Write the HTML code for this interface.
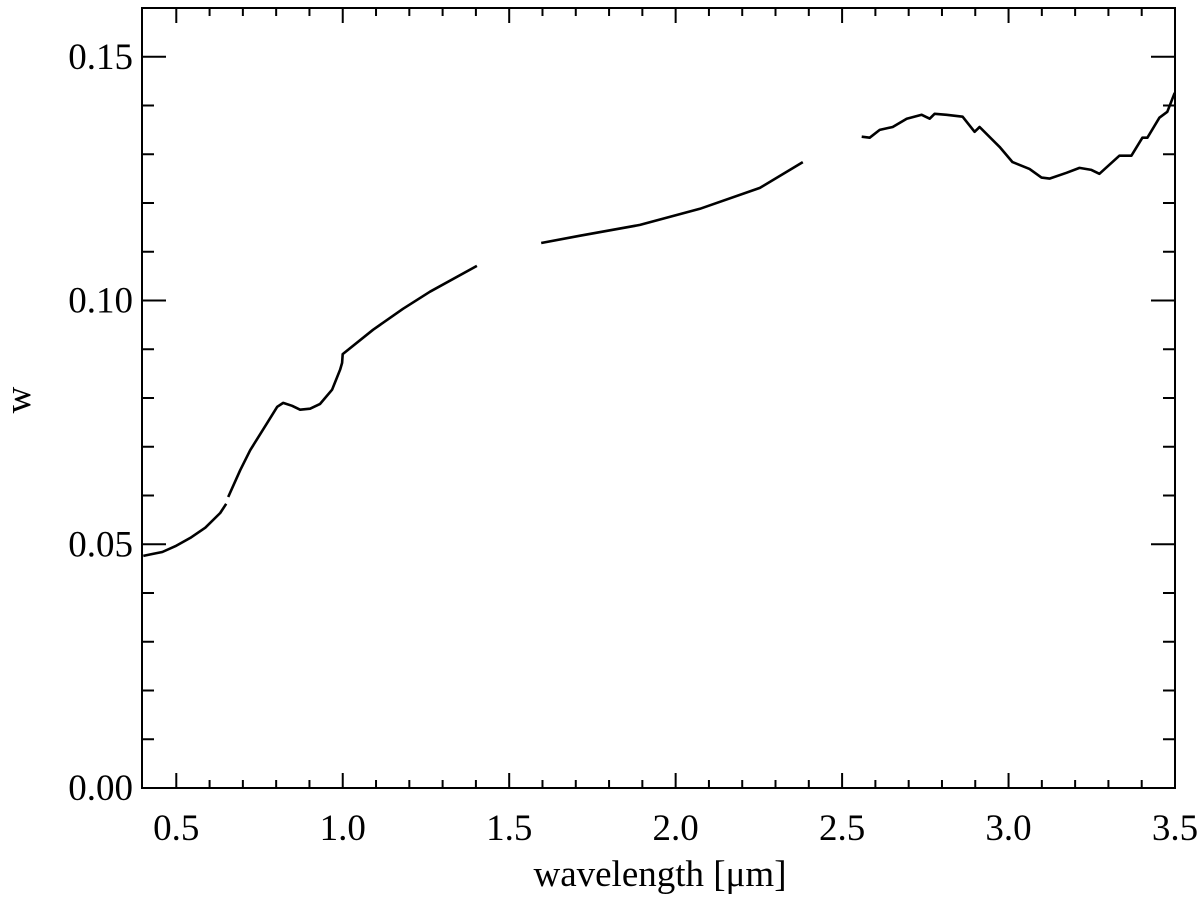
<!DOCTYPE html>
<html><head><meta charset="utf-8"><style>
body{margin:0;background:#fff}
svg text{font-family:"Liberation Serif",serif;fill:#000}
</style></head><body>
<svg id="chart" width="1200" height="899" xmlns="http://www.w3.org/2000/svg">
<g id="axes"></g><g id="series"></g>
<text x="660" y="886" font-size="37" text-anchor="middle">wavelength [μm]</text>
<text x="0" y="0" font-size="37" text-anchor="middle" transform="translate(30,400) rotate(-90)">w</text>
</svg>
<script>
const xTicks=[0.5,1.0,1.5,2.0,2.5,3.0,3.5];
const xTickLabels=["0.5","1.0","1.5","2.0","2.5","3.0","3.5"];
const yTicks=[0,0.05,0.10,0.15];
const yTickLabels=["0.00","0.05","0.10","0.15"];
const seg1X=[0.401,0.428,0.458,0.497,0.542,0.587,0.632,0.650];
const seg1Y=[0.0476,0.0480,0.0484,0.0496,0.0513,0.0534,0.0564,0.0583];
const seg2X=[0.656,0.692,0.722,0.773,0.803,0.821,0.848,0.872,0.902,0.932,0.968,0.992,0.998,1.0,1.091,1.181,1.262,1.403];
const seg2Y=[0.0597,0.0652,0.0693,0.0749,0.0782,0.0790,0.0784,0.0776,0.0778,0.0788,0.0817,0.0858,0.0872,0.0890,0.0940,0.0983,0.1018,0.1071];
const seg3X=[1.596,1.713,1.893,2.073,2.253,2.382];
const seg3Y=[0.1118,0.1133,0.1155,0.1188,0.1231,0.1284];
const seg4X=[2.559,2.583,2.613,2.652,2.694,2.739,2.763,2.778,2.814,2.862,2.898,2.913,2.973,3.012,3.063,3.099,3.123,3.174,3.213,3.249,3.273,3.333,3.369,3.402,3.417,3.453,3.477,3.499];
const seg4Y=[0.1336,0.1334,0.1350,0.1356,0.1373,0.1381,0.1373,0.1383,0.1381,0.1377,0.1346,0.1356,0.1315,0.1284,0.1270,0.1252,0.1250,0.1262,0.1272,0.1268,0.1260,0.1297,0.1297,0.1334,0.1334,0.1375,0.1387,0.1426];

const L=142,R=1175,T=8,B=788,X0=0.397,X1=3.5,Y0=0,Y1=0.16;
const sx=v=>L+(v-X0)/(X1-X0)*(R-L);
const sy=v=>B-(v-Y0)/(Y1-Y0)*(B-T);
const NS="http://www.w3.org/2000/svg";
const axes=document.getElementById('axes'),series=document.getElementById('series');
function mk(tag,attrs,parent){const e=document.createElementNS(NS,tag);for(const k in attrs)e.setAttribute(k,attrs[k]);parent.appendChild(e);return e;}
const frame=mk('rect',{x:L,y:T,width:R-L,height:B-T,fill:'none',stroke:'#000','stroke-width':2},axes);


// x ticks
for(let i=5;i<=35;i++){const v=i/10,maj=i%5===0,len=maj?15:8,x=sx(v);
 const a=mk('line',{x1:x,x2:x,y1:B,y2:B-len,stroke:'#000','stroke-width':2},axes);
 
 
 const b=mk('line',{x1:x,x2:x,y1:T,y2:T+len,stroke:'#000','stroke-width':2},axes);
 
 }
xTicks.forEach((v,i)=>{const t=mk('text',{x:sx(v),y:840,'font-size':37,'text-anchor':'middle'},axes);t.textContent=xTickLabels[i];
 
 });
// y ticks
for(let i=1;i<16;i++){const v=i/100,maj=i%5===0,len=maj?24:12,y=sy(v);
 const a=mk('line',{x1:L,x2:L+len,y1:y,y2:y,stroke:'#000','stroke-width':2},axes);
 
 
 const b=mk('line',{x1:R,x2:R-len,y1:y,y2:y,stroke:'#000','stroke-width':2},axes);
 
 }
yTicks.forEach((v,i)=>{const t=mk('text',{x:133,y:sy(v)+12,'font-size':37,'text-anchor':'end'},axes);t.textContent=yTickLabels[i];
 
 });
[[seg1X,seg1Y],[seg2X,seg2Y],[seg3X,seg3Y],[seg4X,seg4Y]].forEach(([xs,ys],k)=>{
 const d=xs.map((v,i)=>(i?'L':'M')+sx(v).toFixed(1)+','+sy(ys[i]).toFixed(1)).join('');
 const p=mk('path',{d:d,fill:'none',stroke:'#000','stroke-width':2.6,'stroke-linejoin':'round'},series);
 
 
});
</script>
</body></html>
